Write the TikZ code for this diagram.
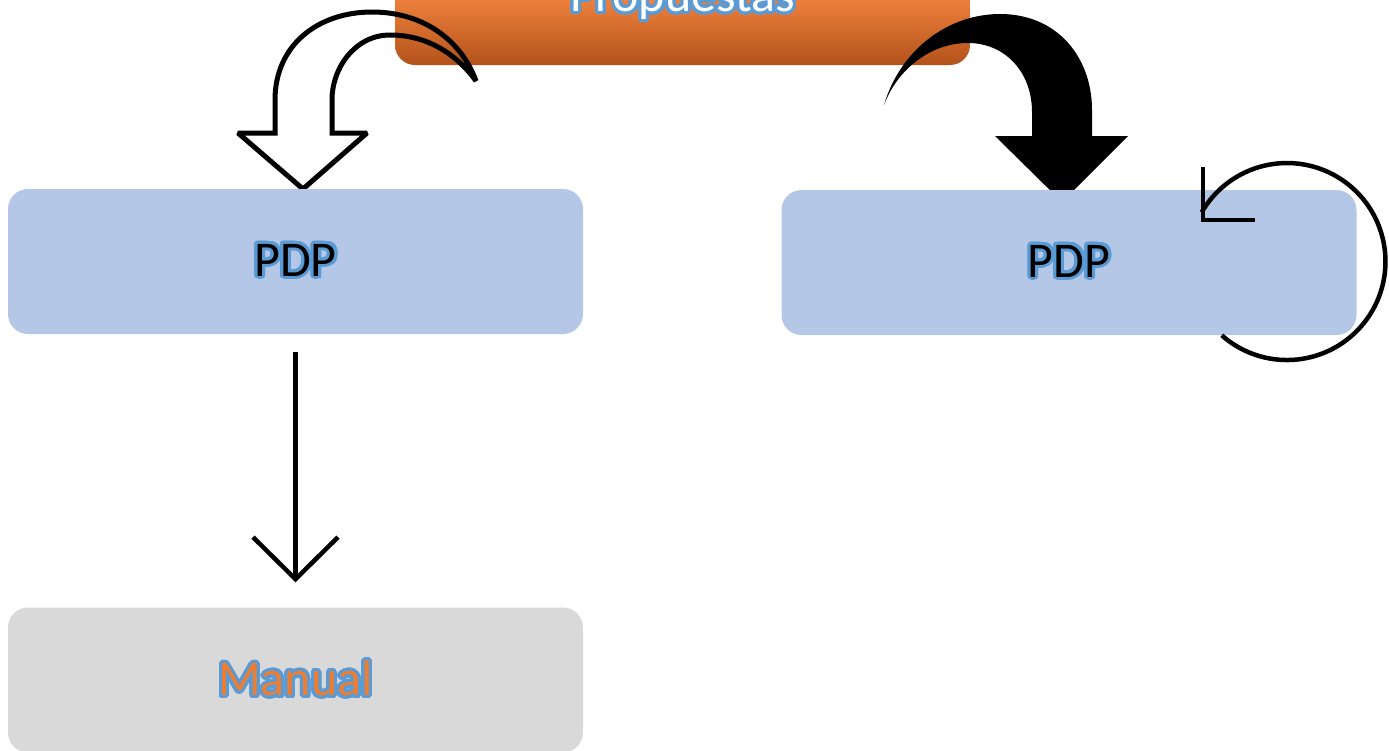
\documentclass[tikz,border=0pt]{standalone}
\usepackage{fontspec}
\setmainfont{Carlito}
\usepackage[copies]{contour}
\usetikzlibrary{arrows.meta}
\contourlength{3pt}
\contournumber{32}

\definecolor{boxblue}{HTML}{B4C7E7}
\definecolor{boxgray}{HTML}{D9D9D9}
\definecolor{glowblue}{HTML}{5B9BD5}
\definecolor{orangetop}{HTML}{F49A5E}
\definecolor{orangemid}{HTML}{EC7F3C}
\definecolor{orangebot}{HTML}{B3521A}
\definecolor{textorange}{HTML}{ED7D31}

\tikzset{
  block/.style={rounded corners=20pt, minimum width=575pt, minimum height=145pt,
    inner sep=0pt, font=\fontsize{50}{54}\selectfont},
  thickline/.style={line width=4.5pt},
}

\begin{document}
\begin{tikzpicture}[x=1pt,y=-1pt]
    \useasboundingbox (0,0) rectangle (1389,750);

    % top box
    \node[block, minimum height=128pt, top color=orangetop, bottom color=orangebot, middle color=orangemid, text=white] (prop) at (682.5,1) {\contour{glowblue}{Propuestas}};

    % block arrows out of the top box
    \draw[line width=5pt, miter limit=2] (275,133) -- (275,100) .. controls (275,45) and (318,12) .. (372,12)
        .. controls (425,12) and (462,42) .. (476,81)
        .. controls (455,52) and (425,35) .. (390,35)
        .. controls (355,35) and (332,68) .. (332,100)
        -- (332,133) -- (367,133) -- (303,189) -- (238,133) -- cycle;
    \fill (884,105) .. controls (900,50) and (948,14) .. (1000,14)
        .. controls (1058,14) and (1092,58) .. (1092,110)
        -- (1092,136) -- (1128,136) -- (1062,202) -- (995,136) -- (1032,136) -- (1032,112)
        .. controls (1032,72) and (1005,43) .. (968,43)
        .. controls (930,43) and (897,70) .. (884,105) -- cycle;

    % the boxes
    \node[block, fill=boxblue] (pdpl) at (295.5,261.5) {\contour{glowblue}{PDP}};
    \node[block, fill=boxblue] (pdpr) at (1069,262.5) {\contour{glowblue}{PDP}};
    \node[block, fill=boxgray, text=textorange] (manual) at (295.5,680) {\contour{glowblue}{Manual}};

    % connectors
    \draw[thickline, -{Straight Barb[length=42pt,width=85pt]}, shorten <=18pt, shorten >=25pt] (pdpl) -- (manual);

    % loop on the right box
    \draw[thickline] (1221.7,335.3) arc[start angle=131.5, end angle=-150, radius=98.5];
    \draw[thickline] (1203,167) -- (1203,220) -- (1255,220);
\end{tikzpicture}
\end{document}
